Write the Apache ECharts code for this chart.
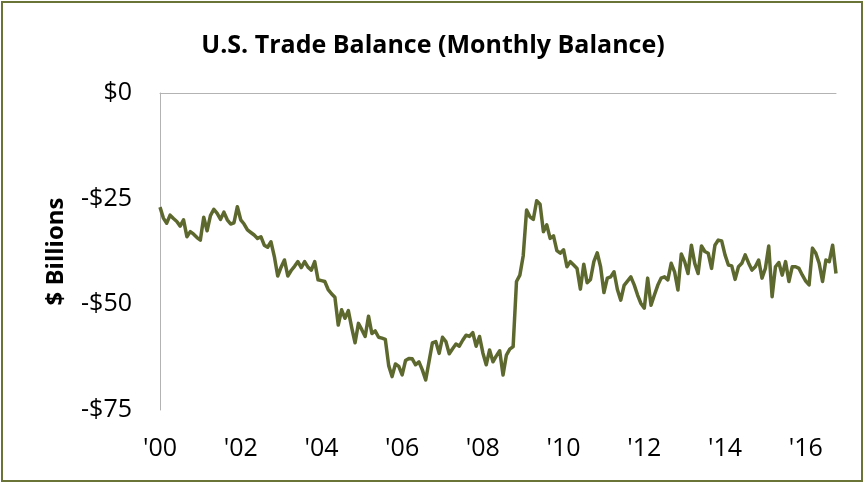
<!DOCTYPE html>
<html>
<head>
<meta charset="utf-8">
<script src="https://cdn.jsdelivr.net/npm/echarts@6/dist/echarts.min.js"></script>
<style>
  html, body { margin: 0; padding: 0; background: #fff; }
  #chart { position: absolute; left: 0; top: 0; width: 866px; height: 483px; }
  #frame {
    position: absolute; left: 1px; top: 1px; width: 858px; height: 477px;
    border: 2px solid #6a7436; pointer-events: none;
  }
</style>
</head>
<body>
<div id="chart"></div>
<div id="frame"></div>
<script>
// monthly goods & services balance, $ billions, Jan 2000 - Oct 2016
const y2000 = [-27.0, -29.6, -30.8, -28.9, -29.7, -30.4, -31.5, -30.0, -34.0, -32.8, -33.4, -34.2];
const y2001 = [-34.8, -29.4, -32.6, -29.0, -27.5, -28.5, -29.9, -28.2, -30.0, -31.0, -30.7, -26.9];
const y2002 = [-30.0, -31.0, -32.4, -33.0, -33.6, -34.4, -34.0, -36.0, -36.5, -35.2, -38.7, -43.3];
const y2003 = [-41.2, -39.5, -43.3, -42.0, -41.0, -39.9, -41.3, -39.9, -41.2, -41.9, -39.9, -44.2];
const y2004 = [-44.4, -44.6, -46.5, -47.5, -48.3, -54.9, -51.3, -53.3, -51.5, -55.5, -59.1, -54.5];
const y2005 = [-56.0, -57.6, -52.8, -56.9, -56.3, -57.8, -58.0, -58.3, -64.5, -67.1, -64.1, -64.7];
const y2006 = [-66.7, -63.3, -62.8, -62.9, -64.3, -63.6, -65.5, -67.9, -63.5, -59.1, -58.8, -61.6];
const y2007 = [-57.8, -58.8, -61.7, -60.5, -59.4, -59.9, -58.5, -57.3, -57.6, -56.7, -59.9, -57.6];
const y2008 = [-61.5, -64.3, -60.8, -63.6, -62.2, -61.0, -66.7, -62.0, -60.6, -60.0, -44.6, -43.1];
const y2009 = [-38.5, -27.7, -29.3, -29.9, -25.5, -26.3, -32.8, -31.2, -34.4, -33.8, -37.3, -37.9];
const y2010 = [-37.1, -41.1, -39.9, -40.7, -41.5, -46.4, -40.5, -44.9, -44.1, -39.9, -37.8, -41.1];
const y2011 = [-47.2, -43.8, -43.5, -42.3, -46.5, -49.0, -45.5, -44.5, -43.5, -45.4, -47.8, -49.8];
const y2012 = [-50.9, -43.8, -50.2, -47.8, -45.5, -43.8, -43.5, -44.2, -40.3, -42.3, -46.6, -38.1];
const y2013 = [-39.9, -42.7, -36.0, -40.3, -42.7, -36.2, -37.5, -37.9, -41.5, -36.0, -34.8, -35.0];
const y2014 = [-38.3, -40.7, -40.9, -44.1, -41.1, -40.3, -38.3, -40.2, -41.9, -41.1, -39.5, -43.8];
const y2015 = [-41.5, -36.2, -48.2, -41.1, -40.1, -43.1, -39.9, -44.6, -41.1, -41.1, -41.5, -43.1];
const y2016 = [-44.5, -45.4, -36.7, -37.9, -40.3, -44.6, -39.5, -39.9, -36.0, -42.7];

const balance = [].concat(y2000, y2001, y2002, y2003, y2004, y2005, y2006, y2007, y2008,
  y2009, y2010, y2011, y2012, y2013, y2014, y2015, y2016);

// one category per month
const months = [];
for (let i = 0; i < balance.length; i++) {
  const yr = 2000 + Math.floor(i / 12);
  const mo = (i % 12) + 1;
  months.push(yr + "-" + (mo < 10 ? "0" + mo : mo));
}

const yearLabels = ["'00", "'02", "'04", "'06", "'08", "'10", "'12", "'14", "'16"];
const yTicks = ["$0", "-$25", "-$50", "-$75"];

const font = "'Open Sans', sans-serif";
const chart = echarts.init(document.getElementById("chart"));

chart.setOption({
  animation: false,
  title: {
    text: "U.S. Trade Balance (Monthly Balance)",
    left: "center",
    top: 28,
    textStyle: { fontFamily: font, fontSize: 25, fontWeight: "bold", color: "#000" },
  },
  grid: { left: 160, right: 30, top: 93, bottom: 73 },
  xAxis: [
    {
      type: "category",
      data: months,
      boundaryGap: false,
      position: "bottom",
      axisLine: { show: false },
      axisTick: { show: false },
      axisLabel: {
        interval: 23,
        margin: 26,
        color: "#000",
        fontFamily: font,
        fontSize: 25,
        formatter: function (v, idx) { return yearLabels[idx / 24]; },
      },
    },
    {
      type: "category",
      data: months,
      boundaryGap: false,
      position: "top",
      axisLine: { show: true, onZero: false, lineStyle: { color: "#b3b3b3", width: 1 } },
      axisTick: { show: false },
      axisLabel: { show: false },
    },
  ],
  yAxis: {
    type: "value",
    min: -75,
    max: 0,
    interval: 25,
    name: "$ Billions",
    nameLocation: "middle",
    nameGap: 92,
    nameRotate: 90,
    nameTextStyle: { fontFamily: font, fontSize: 24, fontWeight: "bold", color: "#000" },
    axisLine: { show: true, lineStyle: { color: "#b3b3b3", width: 1 } },
    axisTick: { show: false },
    splitLine: { show: false },
    axisLabel: {
      margin: 28,
      color: "#000",
      fontFamily: font,
      fontSize: 25,
      formatter: function (v) { return yTicks[Math.round(-v / 25)]; },
    },
  },
  series: [
    {
      type: "line",
      data: balance,
      xAxisIndex: 0,
      showSymbol: false,
      lineStyle: { width: 3.5, color: "#5c682d", join: "round" },
    },
  ],
});
</script>
</body>
</html>
